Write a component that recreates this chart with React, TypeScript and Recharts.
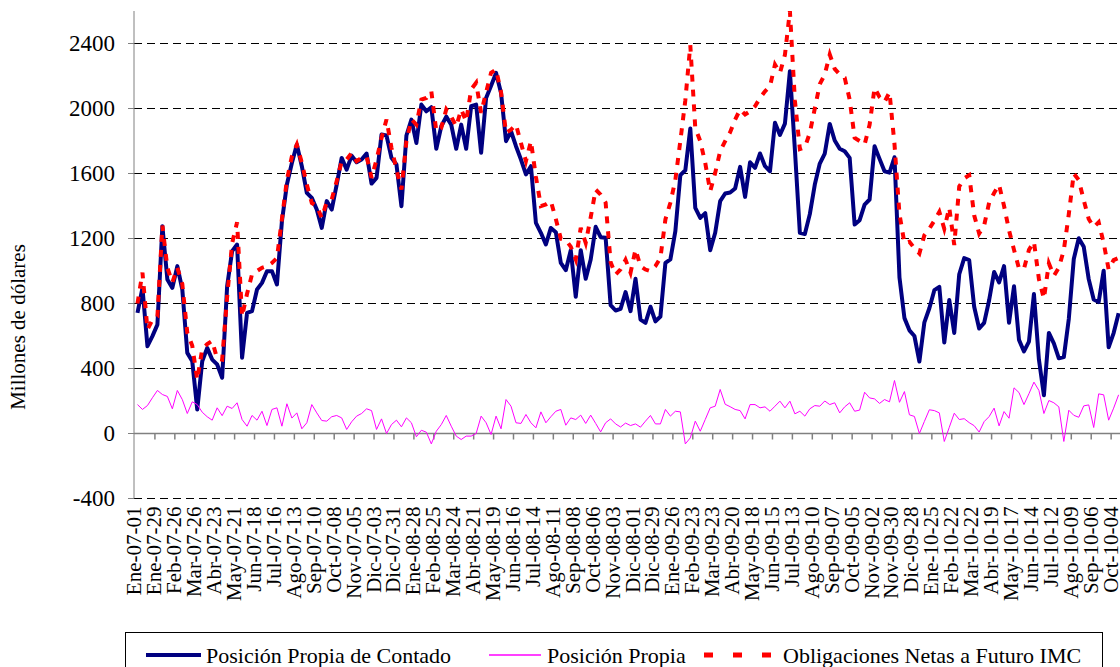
import React from 'react';
import { LineChart, Line, XAxis, YAxis, ReferenceLine, Legend } from 'recharts';

const FONT = "'Liberation Serif', 'Times New Roman', Times, 'DejaVu Serif', serif";

// etiquetas del eje X (una cada 4 semanas)
const TICK_LABELS = [
  'Ene-07-01', 'Ene-07-29', 'Feb-07-26', 'Mar-07-26', 'Abr-07-23', 'May-07-21', 'Jun-07-18', 'Jul-07-16', 'Ago-07-13', 'Sep-07-10',
  'Oct-07-08', 'Nov-07-05', 'Dic-07-03', 'Dic-07-31', 'Ene-08-28', 'Feb-08-25', 'Mar-08-24', 'Abr-08-21', 'May-08-19', 'Jun-08-16',
  'Jul-08-14', 'Ago-08-11', 'Sep-08-08', 'Oct-08-06', 'Nov-08-03', 'Dic-08-01', 'Dic-08-29', 'Ene-09-26', 'Feb-09-23', 'Mar-09-23',
  'Abr-09-20', 'May-09-18', 'Jun-09-15', 'Jul-09-13', 'Ago-09-10', 'Sep-09-07', 'Oct-09-05', 'Nov-09-02', 'Nov-09-30', 'Dic-09-28',
  'Ene-10-25', 'Feb-10-22', 'Mar-10-22', 'Abr-10-19', 'May-10-17', 'Jun-10-14', 'Jul-10-12', 'Ago-10-09', 'Sep-10-06', 'Oct-10-04',
];

// Posición Propia de Contado (semanal)
const CONTADO = [
  742, 896, 537, 599, 670, 1276, 948, 896, 1030, 886,
  496, 445, 148, 445, 527, 455, 425, 343, 906, 1122,
  1163, 466, 742, 753, 886, 927, 999, 999, 917, 1306,
  1532, 1665, 1778, 1645, 1481, 1450, 1378, 1265, 1430, 1378,
  1532, 1696, 1624, 1710, 1669, 1686, 1723, 1538, 1573, 1840,
  1834, 1696, 1655, 1399, 1834, 1932, 1788, 2024, 1983, 2008,
  1752, 1891, 1950, 1900, 1752, 1901, 1752, 2014, 2024, 1727,
  2065, 2140, 2219, 2096, 1799, 1860, 1768, 1686, 1594, 1645,
  1296, 1235, 1163, 1265, 1239, 1050, 1005, 1128, 841, 1128,
  952, 1071, 1272, 1208, 1204, 790, 757, 767, 870, 753,
  952, 701, 681, 780, 690, 720, 1050, 1071, 1245, 1590,
  1620, 1877, 1389, 1327, 1356, 1128, 1235, 1430, 1477, 1483,
  1508, 1641, 1456, 1669, 1635, 1723, 1645, 1614, 1913, 1837,
  1907, 2229, 1747, 1235, 1228, 1350, 1532, 1661, 1723, 1905,
  1803, 1752, 1737, 1696, 1286, 1313, 1409, 1440, 1768, 1690,
  1614, 1605, 1700, 960, 710, 635, 600, 443, 684, 771,
  882, 902, 560, 822, 619, 980, 1079, 1067, 780, 646,
  681, 820, 994, 930, 1030, 681, 906, 576, 505, 566,
  858, 455, 235, 619, 555, 463, 470, 705, 1074, 1202,
  1149, 950, 825, 809, 1002, 531, 618, 740,
];

// Posición Propia
const PROPIA = [
  178, 148, 172, 220, 265, 240, 228, 152, 265, 209,
  123, 195, 178, 131, 103, 82, 158, 110, 168, 154,
  189, 86, 45, 111, 82, 137, 49, 148, 158, 45,
  183, 95, 127, 29, 66, 178, 127, 80, 76, 103,
  111, 96, 25, 72, 107, 123, 152, 141, 25, 90,
  0, 55, 82, 41, 96, 66, -20, 20, 8, -64,
  14, 55, 111, 45, -16, -37, -16, -16, 0, 107,
  66, -6, 107, 29, 209, 168, 66, 62, 117, 66,
  35, 133, 66, 103, 137, 148, 51, 96, 86, 113,
  62, 113, 62, 10, 66, 90, 59, 40, 64, 49,
  59, 39, 76, 111, 59, 59, 148, 107, 137, 133,
  -64, -27, 76, 14, 86, 158, 168, 271, 180, 165,
  148, 141, 90, 178, 178, 158, 164, 137, 168, 199,
  158, 199, 121, 137, 107, 152, 172, 168, 200, 178,
  189, 127, 164, 189, 137, 144, 254, 219, 213, 185,
  209, 195, 326, 192, 258, 115, 105, 0, 74, 146,
  141, 127, -49, 38, 125, 86, 91, 67, 48, 9,
  73, 104, 156, 47, 135, 94, 281, 252, 178, 245,
  316, 265, 123, 203, 189, 164, -49, 143, 112, 100,
  170, 176, 37, 244, 238, 82, 156, 238,
];

// Obligaciones Netas a Futuro IMC
const IMC = [
  800, 990, 640, 700, 720, 1280, 1020, 930, 1020, 920,
  620, 540, 330, 520, 550, 570, 460, 455, 840, 1170,
  1300, 720, 860, 980, 1000, 1020, 1030, 1050, 1080, 1320,
  1560, 1706, 1778, 1665, 1532, 1419, 1399, 1327, 1423, 1440,
  1553, 1676, 1686, 1727, 1676, 1696, 1706, 1573, 1686, 1819,
  1932, 1758, 1624, 1501, 1799, 1932, 1901, 2055, 2065, 2106,
  1860, 1881, 1994, 1950, 1890, 1994, 1920, 2117, 2158, 1973,
  2100, 2220, 2240, 2100, 1850, 1870, 1901, 1788, 1676, 1799,
  1580, 1399, 1410, 1430, 1320, 1198, 1190, 1150, 1071, 1265,
  1173, 1330, 1501, 1470, 1420, 1054, 978, 1010, 1069, 989,
  1132, 1030, 1009, 999, 1030, 1081, 1317, 1420, 1560, 1800,
  2050, 2390, 1880, 1799, 1665, 1491, 1604, 1737, 1799, 1854,
  1932, 1994, 1963, 1983, 2014, 2065, 2106, 2137, 2270, 2219,
  2330, 2600, 2050, 1750, 1760, 1850, 2000, 2150, 2209, 2332,
  2244, 2210, 2190, 2055, 1819, 1800, 1778, 1900, 2127, 2070,
  2040, 2100, 1780, 1350, 1170, 1180, 1140, 1108, 1220, 1260,
  1310, 1364, 1260, 1390, 1160, 1520, 1570, 1590, 1343, 1230,
  1280, 1420, 1480, 1530, 1400, 1250, 1130, 1015, 1015, 1130,
  1180, 950, 830, 1046, 970, 1020, 1128, 1350, 1600, 1560,
  1436, 1320, 1270, 1300, 1173, 1010, 1067, 1080,
];

const Y_TICKS = [-400, 0, 400, 800, 1200, 1600, 2000, 2400];

const data = CONTADO.map((v, i) => ({ i, contado: v, propia: PROPIA[i], imc: IMC[i] }));
const xTicks = TICK_LABELS.map((_, k) => k * 4);

const textStyle = { fontFamily: FONT };

function XTick(props: any) {
  const { x, y, payload } = props;
  const label = TICK_LABELS[Math.round(payload.value / 4)];
  const cx = x - 3;
  return (
    <text
      x={cx}
      y={y}
      transform={`rotate(-90 ${cx} ${y})`}
      textAnchor="end"
      dominantBaseline="central"
      fontSize={21}
      style={textStyle}
      fill="#000"
    >
      {label}
    </text>
  );
}

function YTick(props: any) {
  const { x, y, payload } = props;
  return (
    <text x={x} y={y} textAnchor="end" dominantBaseline="central" fontSize={23} style={textStyle} fill="#000">
      {payload.value}
    </text>
  );
}

function YLabel() {
  return (
    <text
      x={18}
      y={327}
      transform="rotate(-90 18 327)"
      textAnchor="middle"
      dominantBaseline="central"
      fontSize={21}
      style={textStyle}
      fill="#000"
    >
      Millones de dólares
    </text>
  );
}

function LegendBox() {
  return (
    <div style={{ width: 978, height: 50, border: '1px solid #000', boxSizing: 'border-box', background: '#fff' }}>
      <svg width={976} height={48} style={{ display: 'block' }}>
        <line x1={20} x2={75} y1={22} y2={22} stroke="#000080" strokeWidth={4} />
        <text x={80} y={22} dominantBaseline="central" fontSize={22} style={textStyle} fill="#000">
          Posición Propia de Contado
        </text>
        <line x1={363} x2={415} y1={22} y2={22} stroke="#FF00FF" strokeWidth={1.5} />
        <text x={421} y={22} dominantBaseline="central" fontSize={22} style={textStyle} fill="#000">
          Posición Propia
        </text>
        <line x1={578} x2={646} y1={22} y2={22} stroke="#FF0000" strokeWidth={5} strokeDasharray="9 20" />
        <text x={657} y={22} dominantBaseline="central" fontSize={22} style={textStyle} fill="#000">
          Obligaciones Netas a Futuro IMC
        </text>
      </svg>
    </div>
  );
}

export default function App() {
  return (
    <div
      style={{
        position: 'absolute',
        left: 0,
        top: 0,
        width: 1120,
        height: 667,
        overflow: 'hidden',
        background: '#fff',
        fontFamily: FONT,
      }}
    >
      <LineChart width={1120} height={667} data={data} margin={{ top: 11, right: 0, bottom: 0, left: 0 }}>
        <XAxis
          dataKey="i"
          type="number"
          domain={[-0.7, 197.28]}
          allowDataOverflow
          ticks={xTicks}
          interval={0}
          tick={<XTick />}
          tickLine={false}
          axisLine={false}
          tickSize={0}
          tickMargin={8}
          height={168.5}
        />
        <YAxis
          type="number"
          domain={[-400, 2600]}
          allowDataOverflow
          ticks={Y_TICKS}
          interval={0}
          width={134}
          tickSize={6}
          tickMargin={13}
          tickLine={{ stroke: '#808080' }}
          axisLine={{ stroke: '#808080' }}
          tick={<YTick />}
          label={YLabel}
        />
        {/* líneas de cuadrícula discontinuas */}
        {Y_TICKS.filter((v) => v !== 0).map((v) => (
          <ReferenceLine key={`g-${v}`} y={v} stroke="#000" strokeWidth={1} strokeDasharray="8 5" />
        ))}
        <ReferenceLine y={0} stroke="#808080" strokeWidth={1.5} />
        {xTicks.slice(1).map((t) => (
          <ReferenceLine
            key={`tk-${t}`}
            segment={[
              { x: t - 0.5, y: 0 },
              { x: t - 0.5, y: -37 },
            ]}
            stroke="#808080"
            strokeWidth={1.5}
          />
        ))}
        <Line
          type="linear"
          dataKey="contado"
          name="Posición Propia de Contado"
          stroke="#000080"
          strokeWidth={4}
          strokeLinejoin="round"
          dot={false}
          activeDot={false}
          isAnimationActive={false}
        />
        <Line
          type="linear"
          dataKey="propia"
          name="Posición Propia"
          stroke="#FF00FF"
          strokeWidth={1}
          dot={false}
          activeDot={false}
          isAnimationActive={false}
        />
        <Line
          type="linear"
          dataKey="imc"
          name="Obligaciones Netas a Futuro IMC"
          stroke="#FF0000"
          strokeWidth={4}
          strokeDasharray="7 8"
          dot={false}
          activeDot={false}
          isAnimationActive={false}
        />
        <Legend
          layout="horizontal"
          verticalAlign="middle"
          align="center"
          content={<LegendBox />}
          wrapperStyle={{ left: 125, top: 632, width: 978, height: 50 }}
        />
      </LineChart>
    </div>
  );
}
